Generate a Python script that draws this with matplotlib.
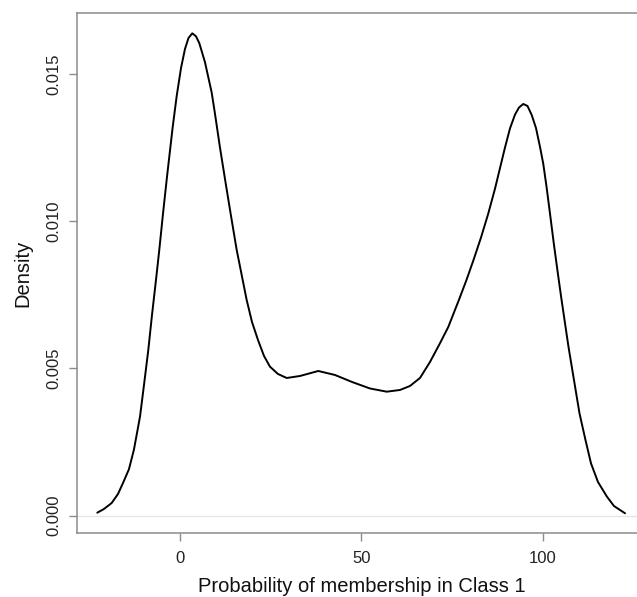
import numpy as np
import matplotlib
matplotlib.use("Agg")
import matplotlib.pyplot as plt

plt.rcParams["font.family"] = ["Liberation Sans", "DejaVu Sans"]

# kernel density estimate of class-1 membership probability (%)
prob_x = [-22.81, -20.96, -18.84, -17.10, -15.72, -14.07, -12.69, -11.03, -9.93, -8.74,
          -7.72, -6.62, -5.71, -4.69, -3.59, -2.01, -0.91, 0.28, 1.38, 2.34,
          3.39, 4.41, 5.32, 6.89, 8.74, 9.65, 11.03, 12.69, 14.07, 15.64,
          17.29, 18.39, 19.86, 21.51, 23.17, 24.82, 27.02, 29.43, 33.09, 38.14,
          42.75, 47.44, 52.40, 57.01, 60.67, 63.43, 66.19, 68.95, 71.70, 74.00,
          77.00, 79.00, 81.00, 83.00, 85.00, 86.87, 88.25, 89.63, 91.01, 92.39,
          93.49, 94.68, 95.84, 97.00, 98.18, 99.28, 100.19, 101.08, 101.90, 103.14,
          104.38, 105.21, 107.14, 108.66, 110.18, 111.83, 113.35, 115.28, 117.76, 119.69,
          122.73]
density = [0.000102, 0.000228, 0.000431, 0.000737, 0.001110, 0.001580, 0.002250, 0.003362, 0.004438, 0.005627,
           0.006816, 0.008005, 0.009024, 0.010250, 0.011500, 0.013200, 0.014250, 0.015200, 0.015850, 0.016220,
           0.016380, 0.016280, 0.016050, 0.015400, 0.014370, 0.013650, 0.012500, 0.011220, 0.010180, 0.009024,
           0.008005, 0.007326, 0.006578, 0.005967, 0.005424, 0.005060, 0.004812, 0.004676, 0.004744, 0.004914,
           0.004778, 0.004541, 0.004320, 0.004211, 0.004269, 0.004405, 0.004676, 0.005220, 0.005855, 0.006410,
           0.007350, 0.008000, 0.008700, 0.009440, 0.010250, 0.011100, 0.011800, 0.012500, 0.013150, 0.013620,
           0.013860, 0.013981, 0.013913, 0.013608, 0.013166, 0.012531, 0.011950, 0.011180, 0.010400, 0.009200,
           0.008080, 0.007350, 0.005739, 0.004608, 0.003477, 0.002571, 0.001779, 0.001144, 0.000645, 0.000329,
           0.000082]

x_ticks = [0, 50, 100]
y_ticks = [0.000, 0.005, 0.010, 0.015]
y_tick_labels = ["0.000", "0.005", "0.010", "0.015"]

axis_grey = "#8c8c8c"

fig = plt.figure(figsize=(6.37, 5.97), dpi=100)
ax = fig.add_axes([0.1209, 0.1072, 0.8948, 0.8710])

ax.axhline(0, color="#e3e3e3", lw=0.9, zorder=1)
ax.plot(prob_x, density, color="black", lw=1.4, solid_joinstyle="round",
        solid_capstyle="round", zorder=3)

ax.set_xlim(-28.4, 128.8)
ax.set_ylim(-0.000588, 0.01707)

ax.set_xticks(x_ticks)
ax.set_yticks(y_ticks)
ax.set_yticklabels(y_tick_labels, rotation=90, va="center")

for side in ["left", "bottom", "top"]:
    ax.spines[side].set_color(axis_grey)
    ax.spines[side].set_linewidth(1.1)
ax.spines["right"].set_visible(False)

ax.tick_params(axis="both", direction="out", length=5.6, width=1.0,
               color=axis_grey, labelsize=12, labelcolor="#222222")
ax.tick_params(axis="x", pad=7)
ax.tick_params(axis="y", pad=6)

ax.set_xlabel("Probability of membership in Class 1", fontsize=14.5, color="#111111", labelpad=8)
ax.set_ylabel("Density", fontsize=14.5, color="#111111", labelpad=10)

fig.savefig("out.png", dpi=100)
